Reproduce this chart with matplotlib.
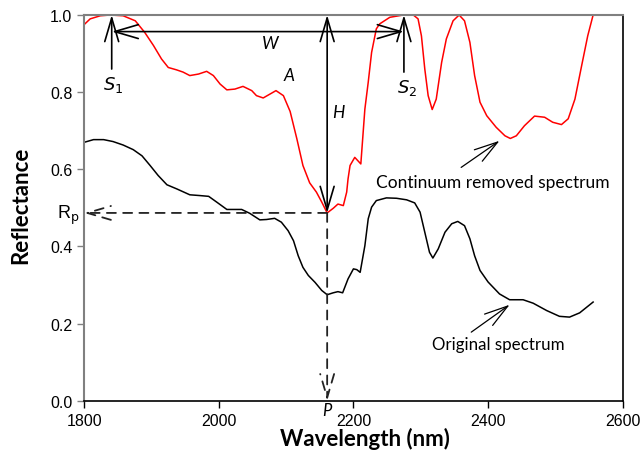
import matplotlib
matplotlib.use('Agg')
import matplotlib.pyplot as plt

# original spectrum (black)
orig_wl = [1800, 1814, 1829, 1843, 1858, 1873, 1886, 1898, 1910, 1923, 1938, 1957,
           1972, 1985, 1997, 2012, 2022, 2034, 2046, 2061, 2071, 2083, 2093, 2103,
           2111, 2118, 2125, 2133, 2143, 2153, 2161, 2170, 2177, 2184, 2192, 2200,
           2205, 2210, 2217, 2222, 2227, 2234, 2249, 2264, 2279, 2291, 2299, 2306,
           2313, 2318, 2326, 2336, 2346, 2355, 2365, 2373, 2380, 2388, 2400, 2417,
           2432, 2452, 2467, 2487, 2506, 2521, 2536, 2556]
orig_refl = [0.670, 0.677, 0.677, 0.672, 0.663, 0.651, 0.635, 0.610, 0.584, 0.560, 0.549, 0.534,
             0.532, 0.530, 0.515, 0.496, 0.496, 0.496, 0.486, 0.469, 0.470, 0.473, 0.463, 0.441,
             0.415, 0.376, 0.346, 0.325, 0.307, 0.286, 0.275, 0.280, 0.283, 0.280, 0.316, 0.342,
             0.340, 0.333, 0.402, 0.472, 0.502, 0.519, 0.526, 0.525, 0.521, 0.513, 0.489, 0.437,
             0.385, 0.370, 0.394, 0.437, 0.459, 0.465, 0.454, 0.420, 0.376, 0.338, 0.308, 0.277,
             0.262, 0.262, 0.253, 0.234, 0.219, 0.217, 0.228, 0.256]

# continuum removed spectrum (red)
cr_wl = [1800, 1809, 1824, 1839, 1858, 1876, 1890, 1903, 1915, 1925, 1937, 1947,
         1957, 1970, 1982, 1992, 2002, 2012, 2024, 2036, 2049, 2056, 2066, 2076,
         2085, 2096, 2106, 2116, 2125, 2135, 2145, 2153, 2161, 2170, 2177, 2185,
         2190, 2192, 2195, 2202, 2211, 2217, 2222, 2227, 2234, 2239, 2254, 2274,
         2289, 2296, 2301, 2306, 2311, 2317, 2323, 2331, 2338, 2348, 2357, 2365,
         2373, 2380, 2388, 2398, 2412, 2425, 2433, 2442, 2454, 2469, 2484, 2496,
         2509, 2519, 2529, 2539, 2548, 2556]
cr_refl = [0.975, 0.990, 0.998, 1.000, 0.998, 0.985, 0.955, 0.921, 0.886, 0.864, 0.858, 0.852,
           0.843, 0.847, 0.854, 0.843, 0.821, 0.806, 0.808, 0.815, 0.804, 0.791, 0.785, 0.795,
           0.804, 0.791, 0.750, 0.679, 0.610, 0.565, 0.541, 0.515, 0.487, 0.499, 0.510, 0.506,
           0.541, 0.575, 0.610, 0.631, 0.614, 0.756, 0.826, 0.903, 0.964, 0.977, 0.994, 1.000,
           1.000, 0.990, 0.946, 0.860, 0.791, 0.755, 0.782, 0.877, 0.938, 0.985, 1.000, 0.985,
           0.929, 0.843, 0.774, 0.739, 0.709, 0.687, 0.680, 0.687, 0.713, 0.738, 0.735, 0.722,
           0.716, 0.731, 0.782, 0.869, 0.946, 1.000]

# feature parameters
s1, s2 = 1841, 2275
p_wl, rp = 2161, 0.487

fig = plt.figure(figsize=(6.42, 4.64), dpi=100)
ax = fig.add_axes([0.131, 0.134, 0.839, 0.8315])

ax.plot(orig_wl, orig_refl, color='black', lw=1.1)
ax.plot(cr_wl, cr_refl, color='red', lw=1.1)

ax.set_xlim(1800, 2600)
ax.set_ylim(0, 1.0)
ax.set_xticks([1800, 2000, 2200, 2400, 2600])
ax.set_yticks([0.0, 0.2, 0.4, 0.6, 0.8, 1.0])
ax.set_yticklabels(['0.0', '0.2', '0.4', '0.6', '0.8', '1.0'])
ax.tick_params(direction='out', length=5, width=1, labelsize=11.5)
for lab in ax.get_xticklabels() + ax.get_yticklabels():
    lab.set_fontfamily(['Liberation Sans', 'DejaVu Sans'])
for side in ['left', 'top']:
    ax.spines[side].set_color('#808080')
    ax.spines[side].set_linewidth(1.5)
ax.spines['bottom'].set_linewidth(1.2)
ax.spines['right'].set_linewidth(1.2)
ax.tick_params(axis='y', color='#808080')

lab_font = ['Lato', 'DejaVu Sans']
ax.set_xlabel('Wavelength (nm)', fontsize=16, fontweight='bold', family=lab_font)
ax.set_ylabel('Reflectance', fontsize=16, fontweight='bold', family=lab_font)
ax.xaxis.set_label_coords(0.522, -0.068)
ax.yaxis.set_label_coords(-0.098, 0.51)

arrow = dict(arrowstyle='->,head_length=1.7,head_width=0.5', color='black',
             lw=1.2, mutation_scale=10, shrinkA=0, shrinkB=0)
arrow2 = dict(arrow, arrowstyle='<->,head_length=1.7,head_width=0.5')
dashed = dict(arrow, color='#222222', linestyle=(0, (5, 4)), lw=1.3)

# S1 / S2 shoulders
ax.annotate('', xy=(s1, 1.0), xytext=(s1, 0.86), arrowprops=arrow, annotation_clip=False)
ax.annotate('', xy=(s2, 1.0), xytext=(s2, 0.852), arrowprops=arrow, annotation_clip=False)
ax.text(s1 + 2, 0.821, '$S_1$', fontsize=13, ha='center', va='center', family=lab_font)
ax.text(s2 + 4, 0.813, '$S_2$', fontsize=13, ha='center', va='center', family=lab_font)

# width W
ax.annotate('', xy=(s1, 0.957), xytext=(s2, 0.957), arrowprops=arrow2)
ax.text(2076, 0.927, 'W', fontsize=12.5, style='italic', ha='center', va='center', family=lab_font)

# depth H
ax.annotate('', xy=(p_wl, 1.0), xytext=(p_wl, rp), arrowprops=arrow2, annotation_clip=False)
ax.text(2177, 0.748, 'H', fontsize=12.5, style='italic', ha='center', va='center', family=lab_font)
ax.text(2105, 0.845, 'A', fontsize=12.5, style='italic', ha='center', va='center', family=lab_font)

# Rp and P
ax.annotate('', xy=(1800, rp), xytext=(p_wl, rp), arrowprops=dashed, annotation_clip=False)
ax.annotate('', xy=(p_wl, 0.0), xytext=(p_wl, rp), arrowprops=dashed, annotation_clip=False)
ax.text(1793, rp - 0.003, 'R$_\\mathrm{p}$', fontsize=13, ha='right', va='center',
        family=['Liberation Sans', 'DejaVu Sans'])
ax.text(p_wl, -0.024, 'P', fontsize=12, style='italic', ha='center', va='center', family=lab_font)

# curve labels
ax.annotate('', xy=(2417, 0.674), xytext=(2360, 0.605), arrowprops=dict(arrow, lw=0.9))
ax.text(2407, 0.566, 'Continuum removed spectrum', fontsize=12.5, ha='center', va='center',
        family=lab_font)
ax.annotate('', xy=(2432, 0.249), xytext=(2375, 0.178), arrowprops=dict(arrow, lw=0.9))
ax.text(2415, 0.148, 'Original spectrum', fontsize=12.2, ha='center', va='center',
        family=lab_font)

fig.savefig('out.png', dpi=100)
